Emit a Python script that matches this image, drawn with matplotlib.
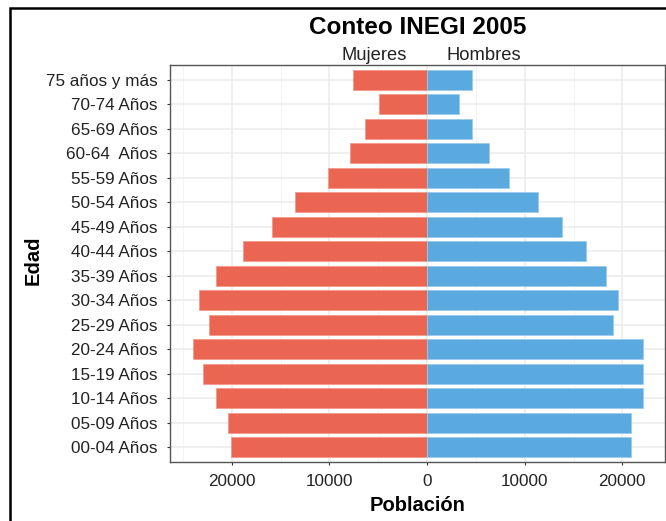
import matplotlib
matplotlib.use("Agg")
import matplotlib.pyplot as plt
from matplotlib.patches import Rectangle
from matplotlib.ticker import FixedLocator, FuncFormatter

plt.rcParams['font.family'] = ['Liberation Sans', 'DejaVu Sans']

categories = ["00-04 Años", "05-09 Años", "10-14 Años", "15-19 Años", "20-24 Años",
              "25-29 Años", "30-34 Años", "35-39 Años", "40-44 Años", "45-49 Años",
              "50-54 Años", "55-59 Años", "60-64  Años", "65-69 Años", "70-74 Años",
              "75 años y más"]
mujeres = [20100, 20370, 21630, 22930, 24010, 22340, 23330, 21600, 18870, 15830,
           13480, 10170, 7890, 6320, 4890, 7618]
hombres = [20880, 20880, 22090, 22090, 22090, 19050, 19520, 18330, 16240, 13780,
           11380, 8410, 6330, 4580, 3280, 4580]
major_ticks = [-20000, -10000, 0, 10000, 20000]
minor_ticks = [-25000, -15000, -5000, 5000, 15000]

red = '#EA6653'
blue = '#5BAADF'

fig = plt.figure(figsize=(6.66, 5.21), dpi=100)
ax = fig.add_axes([170/666, 1-462/521, (665.3-170)/666, (462-65)/521])

y = list(range(len(categories)))
ax.barh(y, [-v for v in mujeres], height=0.82, color=red, edgecolor='#F29A8C', linewidth=0.6, zorder=3)
ax.barh(y, hombres, height=0.82, color=blue, edgecolor='#9CCBEC', linewidth=0.6, zorder=3)

lo = -max(mujeres)
hi = max(hombres)
pad = 0.05 * (hi - lo)
ax.set_xlim(lo - pad, hi + pad)
ax.set_ylim(-0.6, len(categories) - 1 + 0.6)

ax.set_yticks(y)
ax.set_yticklabels(categories)
ax.xaxis.set_major_locator(FixedLocator(major_ticks))
ax.xaxis.set_minor_locator(FixedLocator(minor_ticks))
ax.xaxis.set_major_formatter(FuncFormatter(lambda v, p: f"{abs(int(v))}"))

ax.grid(True, which='major', color='#EBEBEB', linewidth=1.1, zorder=0)
ax.grid(True, which='minor', axis='x', color='#F2F2F2', linewidth=0.6, zorder=0)
ax.set_axisbelow(True)

for s in ax.spines.values():
    s.set_color('#555555')
    s.set_linewidth(1.0)

ax.tick_params(axis='both', which='major', length=2.5, color='#333333', labelsize=12.3,
               labelcolor='#222222')
ax.tick_params(axis='y', pad=6.5)
ax.tick_params(axis='x', which='minor', length=0)
ax.tick_params(axis='x', pad=6)

ax.set_xlabel('Población', fontsize=14.5, fontweight='bold', labelpad=5)
ax.set_ylabel('Edad', fontsize=14.5, fontweight='bold')
ax.yaxis.set_label_coords((43 - 170) / 495.3, (462 - 260) / 397)

fig.text(418/666, 1-34.3/521, 'Conteo INEGI 2005', ha='center', va='baseline',
         fontsize=17.5, fontweight='bold')
fig.text(374/666, 1-60/521, 'Mujeres', ha='center', va='baseline', fontsize=13.2, color='#222222')
fig.text(484/666, 1-60/521, 'Hombres', ha='center', va='baseline', fontsize=13.2, color='#222222')

fig.patches.append(Rectangle((9.5/666, -0.1), 1.2, 1 - 7.5/521 + 0.1, transform=fig.transFigure,
                             fill=False, edgecolor='black', linewidth=1.8))

fig.savefig('out.png', dpi=100)
